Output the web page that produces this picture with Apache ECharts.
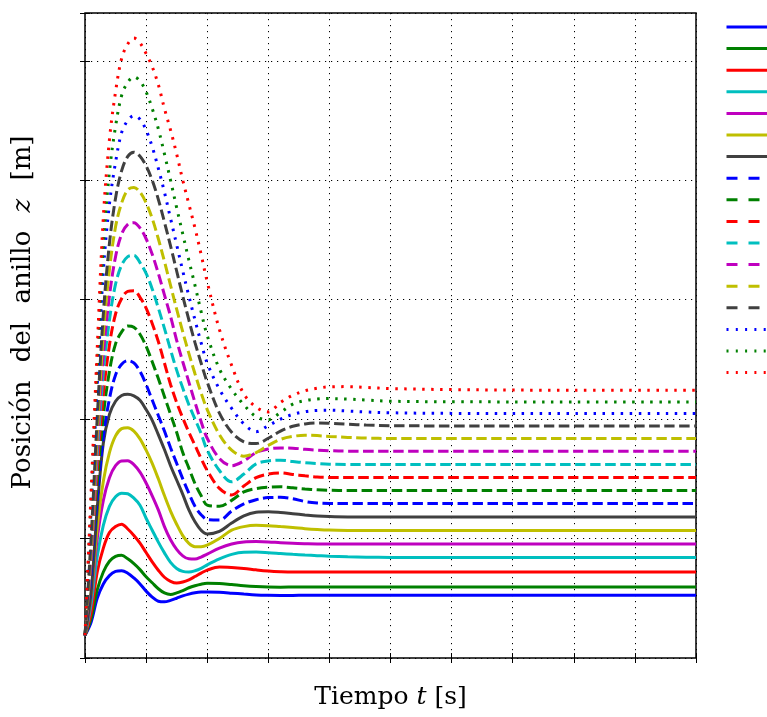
<!DOCTYPE html>
<html>
<head>
<meta charset="utf-8">
<script src="https://cdn.jsdelivr.net/npm/echarts@6/dist/echarts.min.js"></script>
<style>
html, body { margin: 0; padding: 0; background: #ffffff; }
#chart { width: 767px; height: 717px; }
</style>
</head>
<body>
<div id="chart"></div>
<script>
// Sample times [s]
const tiempo = [0, 0.1, 0.2, 0.3, 0.4, 0.5, 0.6, 0.7, 0.8, 0.9, 1.0, 1.1, 1.2, 1.3, 1.4,
  1.5, 1.6, 1.7, 1.8, 1.9, 2.0, 2.2, 2.4, 2.6, 2.8, 3.0, 3.2, 3.4, 3.6, 3.8, 4.0,
  4.3, 4.6, 5.0, 6.0, 8.0, 10.0];

// Ring position z [m] for each case
const z01 = [.19,.30,.50,.62,.69,.725,.731,.71,.67,.62,.56,.51,.475,.47,.482,.50,.52,.535,.546,.552,.553,.55,.543,.535,.528,.525,.524,.524,.525,.525,.525,.525,.525,.525,.525,.525,.525];
const z02 = [.19,.33,.57,.72,.81,.85,.86,.83,.79,.74,.68,.63,.58,.545,.532,.545,.565,.588,.605,.618,.625,.624,.615,.605,.598,.594,.593,.594,.595,.595,.595,.595,.595,.595,.595,.595,.595];
const z03 = [.19,.38,.72,.92,1.05,1.10,1.12,1.08,1.026,.962,.883,.805,.735,.676,.642,.627,.636,.655,.682,.711,.736,.762,.758,.75,.738,.728,.722,.719,.719,.72,.72,.72,.72,.72,.72,.72,.72];
const z04 = [.19,.45,.85,1.11,1.27,1.35,1.38,1.375,1.338,1.279,1.17,1.07,.97,.88,.80,.75,.725,.72,.73,.75,.78,.83,.868,.886,.887,.882,.875,.868,.862,.857,.852,.847,.844,.842,.841,.841,.841];
const z05 = [.19,.51,1.0,1.32,1.51,1.61,1.65,1.652,1.619,1.556,1.465,1.358,1.24,1.10,.99,.91,.855,.83,.828,.845,.87,.92,.955,.972,.975,.972,.965,.96,.957,.955,.955,.955,.955,.955,.955,.955,.955];
const z06 = [.19,.54,1.09,1.48,1.72,1.86,1.92,1.928,1.90,1.835,1.74,1.63,1.50,1.36,1.23,1.12,1.025,.96,.932,.932,.945,1.0,1.07,1.10,1.111,1.108,1.10,1.092,1.083,1.076,1.071,1.068,1.067,1.067,1.067,1.067,1.067];
const z07 = [.19,.55,1.25,1.80,2.04,2.15,2.198,2.208,2.195,2.158,2.08,1.99,1.87,1.745,1.61,1.49,1.37,1.24,1.14,1.07,1.038,1.06,1.13,1.19,1.22,1.224,1.218,1.208,1.198,1.189,1.184,1.181,1.181,1.181,1.181,1.181,1.181];
const z08 = [.19,.70,1.34,1.85,2.17,2.37,2.46,2.49,2.47,2.40,2.29,2.16,2.03,1.90,1.76,1.63,1.50,1.38,1.27,1.20,1.16,1.155,1.23,1.29,1.325,1.343,1.345,1.333,1.31,1.298,1.294,1.293,1.293,1.293,1.293,1.293,1.293];
const z09 = [.19,.76,1.46,2.03,2.40,2.63,2.73,2.78,2.77,2.71,2.61,2.48,2.34,2.19,2.04,1.89,1.72,1.59,1.46,1.36,1.28,1.27,1.32,1.39,1.418,1.43,1.433,1.425,1.415,1.408,1.404,1.402,1.402,1.402,1.402,1.402,1.402];
const z10 = [.19,.80,1.58,2.21,2.62,2.88,3.01,3.07,3.075,3.02,2.93,2.80,2.65,2.47,2.29,2.14,2.01,1.89,1.78,1.67,1.57,1.42,1.365,1.44,1.51,1.54,1.55,1.537,1.525,1.515,1.512,1.511,1.511,1.511,1.511,1.511,1.511];
const z11 = [.19,.86,1.69,2.39,2.83,3.13,3.29,3.36,3.37,3.31,3.22,3.09,2.93,2.76,2.58,2.41,2.26,2.12,2.0,1.88,1.74,1.57,1.475,1.54,1.625,1.65,1.656,1.645,1.635,1.628,1.623,1.62,1.62,1.62,1.62,1.62,1.62];
const z12 = [.19,.88,1.78,2.54,3.03,3.36,3.55,3.63,3.645,3.60,3.51,3.38,3.22,3.04,2.86,2.66,2.48,2.31,2.14,1.98,1.84,1.67,1.61,1.65,1.72,1.75,1.758,1.757,1.747,1.74,1.735,1.732,1.731,1.731,1.731,1.731,1.731];
const z13 = [.19,.94,1.88,2.71,3.25,3.61,3.81,3.92,3.94,3.90,3.81,3.68,3.51,3.32,3.12,2.92,2.73,2.55,2.38,2.22,2.08,1.87,1.74,1.69,1.72,1.78,1.83,1.855,1.865,1.862,1.855,1.847,1.841,1.838,1.838,1.838,1.838];
const z14 = [.19,1.0,2.01,2.88,3.47,3.85,4.08,4.2,4.235,4.20,4.12,4.0,3.84,3.65,3.45,3.24,3.03,2.83,2.64,2.47,2.31,2.05,1.89,1.81,1.795,1.84,1.90,1.94,1.96,1.968,1.965,1.957,1.95,1.945,1.943,1.943,1.943];
const z15 = [.19,1.24,2.28,3.24,3.80,4.15,4.40,4.50,4.54,4.51,4.42,4.28,4.10,3.90,3.68,3.46,3.24,3.03,2.83,2.64,2.47,2.25,2.09,1.96,1.895,1.945,2.0,2.04,2.062,2.073,2.075,2.068,2.06,2.053,2.048,2.047,2.047];
const z16 = [.19,1.31,2.43,3.46,4.07,4.45,4.71,4.82,4.865,4.83,4.74,4.6,4.43,4.22,4.0,3.77,3.55,3.33,3.12,2.90,2.70,2.42,2.25,2.12,2.02,1.995,2.056,2.125,2.155,2.168,2.172,2.168,2.16,2.15,2.145,2.144,2.144];
const z17 = [.19,1.39,2.59,3.69,4.34,4.74,5.02,5.14,5.19,5.15,5.06,4.95,4.80,4.60,4.42,4.22,4.0,3.8,3.6,3.38,3.15,2.75,2.45,2.21,2.10,2.06,2.14,2.2,2.237,2.258,2.27,2.272,2.265,2.256,2.247,2.242,2.242];

const curvas = [z01, z02, z03, z04, z05, z06, z07, z08, z09, z10, z11, z12, z13, z14, z15, z16, z17];

// MATLAB-style colour cycle and line styles (solid, dashed, dotted)
const colores = ['#0000ff', '#008000', '#ff0000', '#00bfbf', '#bf00bf', '#bfbf00', '#404040'];
const estilos = ['-', '-', '-', '-', '-', '-', '-', '--', '--', '--', '--', '--', '--', '--', ':', ':', ':'];

const trazoCurva = { '-': 'solid', '--': [10.5, 4.5], ':': [2.5, 6.5] };
const trazoLeyenda = { '-': 'solid', '--': [11, 11], ':': [2, 7.3] };

const nombres = curvas.map((_, i) => 'Caso ' + (i + 1));

const series = curvas.map((vals, i) => ({
  name: nombres[i],
  type: 'line',
  data: tiempo.map((t, k) => [t, vals[k]]),
  smooth: 0.35,
  showSymbol: false,
  symbol: 'none',
  color: colores[i % 7],
  lineStyle: { width: 3, type: trazoCurva[estilos[i]], cap: 'butt' },
  emphasis: { disabled: true },
  silent: true,
  animation: false
}));

const rejilla = { show: true, lineStyle: { color: '#000', width: 1, type: [1.2, 4.8] } };
const marca = { show: true, inside: true, length: 5, lineStyle: { color: '#000', width: 1 } };
const fuente = 'DejaVu Serif';
const texto = { fontFamily: fuente, fontSize: 25, color: '#000' };
const textoY = { fontFamily: fuente, fontSize: 26, color: '#000' };

const chart = echarts.init(document.getElementById('chart'), null, { renderer: 'canvas' });
chart.setOption({
  animation: false,
  backgroundColor: '#ffffff',
  grid: {
    left: 85, top: 13, width: 611, height: 645,
    outerBoundsMode: 'none', containLabel: false,
    show: true, borderColor: '#000', borderWidth: 1.5, backgroundColor: 'transparent'
  },
  legend: {
    orient: 'vertical',
    left: 725,
    top: 20,
    padding: 0,
    itemWidth: 50,
    itemHeight: 14,
    itemGap: 9,
    formatter: () => '',
    selectedMode: false,
    itemStyle: { opacity: 0 },
    data: nombres.map((n, i) => ({ name: n, lineStyle: { width: 3, type: trazoLeyenda[estilos[i]], cap: 'butt' } }))
  },
  xAxis: [
    {
      type: 'value', min: 0, max: 10, interval: 1,
      name: 'Tiempo {i|t} [s]', nameLocation: 'middle', nameGap: 27,
      nameTextStyle: Object.assign({}, texto, {
        rich: { i: Object.assign({}, texto, { fontStyle: 'italic' }) }
      }),
      axisLine: { show: false }, axisTick: marca, axisLabel: { show: false }, splitLine: rejilla
    },
    {
      type: 'value', min: 0, max: 10, interval: 1, position: 'top',
      axisLine: { show: false }, axisTick: marca, axisLabel: { show: false }, splitLine: { show: false }
    }
  ],
  yAxis: [
    {
      type: 'value', min: 0, max: 5.4, interval: 1,
      name: '{r|Posición}{e| }{r|del}{e| }{r|anillo}{e| }{i|z}{e| }{r|[m]}',
      nameLocation: 'middle', nameGap: 49,
      nameTextStyle: Object.assign({}, textoY, {
        padding: [0, 0, 0, 46],
        rich: {
          r: textoY,
          e: Object.assign({}, textoY, { padding: [0, 5, 0, 5] }),
          i: Object.assign({}, textoY, { fontStyle: 'italic' })
        }
      }),
      axisLine: { show: false }, axisTick: marca, axisLabel: { show: false }, splitLine: rejilla
    },
    {
      type: 'value', min: 0, max: 5.4, interval: 1, position: 'right',
      axisLine: { show: false }, axisTick: marca, axisLabel: { show: false }, splitLine: { show: false }
    }
  ],
  series: series
});
</script>
</body>
</html>
